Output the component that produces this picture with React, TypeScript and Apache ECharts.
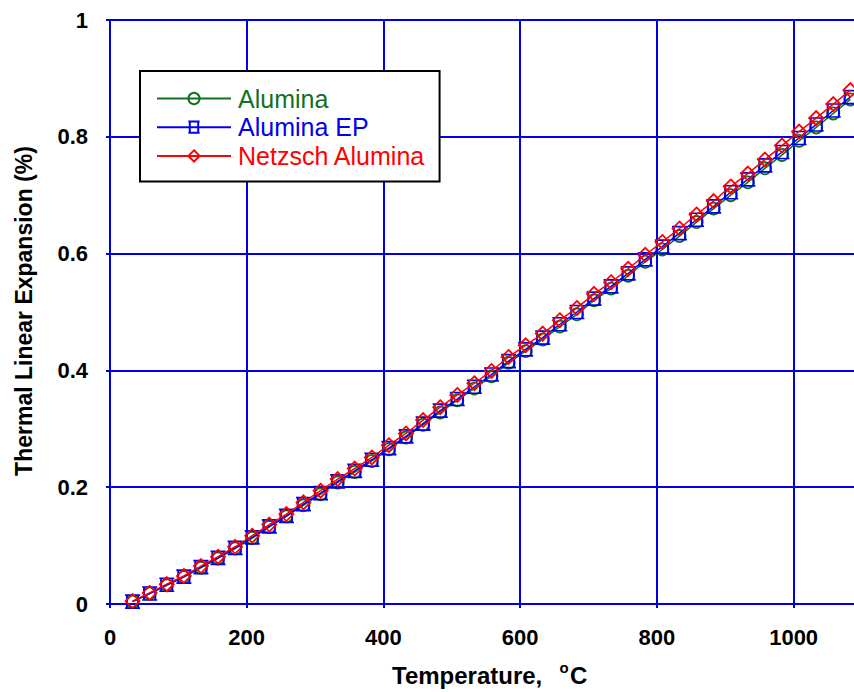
import React, { useEffect, useRef } from "react";
import * as echarts from "echarts";

const temps = [33, 58, 83, 108, 133, 158, 183, 208, 233, 258, 283, 308, 333, 358, 383, 408, 433, 458, 483, 508, 533, 558, 583, 608, 633, 658, 683, 708, 733, 758, 783, 808, 833, 858, 883, 908, 933, 958, 983, 1008, 1033, 1058, 1083];

const alumina = [0.004, 0.018, 0.032, 0.046, 0.062, 0.078, 0.095, 0.113, 0.132, 0.150, 0.169, 0.188, 0.208, 0.226, 0.245, 0.265, 0.285, 0.307, 0.328, 0.349, 0.369, 0.390, 0.413, 0.433, 0.453, 0.475, 0.496, 0.520, 0.540, 0.562, 0.586, 0.607, 0.630, 0.654, 0.677, 0.700, 0.722, 0.746, 0.769, 0.793, 0.816, 0.840, 0.864];

const aluminaEP = [0.004, 0.018, 0.033, 0.047, 0.063, 0.079, 0.096, 0.114, 0.133, 0.151, 0.171, 0.190, 0.210, 0.228, 0.247, 0.267, 0.287, 0.309, 0.331, 0.351, 0.372, 0.393, 0.416, 0.436, 0.456, 0.479, 0.500, 0.523, 0.544, 0.566, 0.590, 0.612, 0.635, 0.658, 0.681, 0.705, 0.727, 0.751, 0.774, 0.798, 0.821, 0.845, 0.868];

const netzsch = [0.005, 0.019, 0.034, 0.048, 0.065, 0.081, 0.098, 0.117, 0.136, 0.154, 0.174, 0.194, 0.214, 0.232, 0.251, 0.272, 0.292, 0.315, 0.337, 0.358, 0.378, 0.399, 0.423, 0.443, 0.463, 0.486, 0.507, 0.531, 0.551, 0.574, 0.598, 0.620, 0.643, 0.667, 0.690, 0.715, 0.737, 0.761, 0.785, 0.809, 0.832, 0.856, 0.880];

const seriesNames = ["Alumina", "Alumina EP", "Netzsch Alumina"];
const seriesColors = ["#12701f", "#0000ee", "#ff0000"];

const xTitle = "Temperature,";
const yTitle = "Thermal Linear Expansion (%)";

const FONT = "'Liberation Sans', Arial, sans-serif";

function pairs(xs: number[], ys: number[]) {
  return xs.map((x, i) => [x, ys[i]]);
}

export default function App() {
  const ref = useRef<HTMLDivElement>(null);
  useEffect(() => {
    if (!ref.current) return;
    const chart = echarts.init(ref.current, undefined, { renderer: "svg" });
    const gridBlue = "#0000e6";
    const mk = (idx: number, data: number[], symbol: string, size: any) => ({
      name: seriesNames[idx],
      type: "line",
      data: pairs(temps, data),
      symbol,
      symbolSize: size,
      lineStyle: { color: seriesColors[idx], width: 1.5 },
      itemStyle: { color: "transparent", borderColor: seriesColors[idx], borderWidth: 1.8 },
      z: 2 + idx,
    });
    chart.setOption({
      animation: false,
      backgroundColor: "#ffffff",
      grid: { left: 110, top: 20, right: 0, bottom: 88, containLabel: false },
      xAxis: {
        type: "value",
        min: 0,
        max: 1100,
        interval: 200,
        axisLine: { show: true, onZero: false, lineStyle: { color: gridBlue, width: 2 } },
        axisTick: { show: true, inside: false, length: 4, lineStyle: { color: gridBlue, width: 2 } },
        splitLine: { show: true, lineStyle: { color: gridBlue, width: 2 } },
        axisLabel: {
          margin: 22,
          color: "#000",
          fontFamily: FONT,
          fontWeight: "bold",
          fontSize: 22,
          showMaxLabel: false,
          formatter: (v: number) => (v % 200 === 0 ? String(v) : ""),
        },
      },
      yAxis: {
        type: "value",
        min: 0,
        max: 1,
        interval: 0.2,
        axisLine: { show: true, lineStyle: { color: gridBlue, width: 2 } },
        axisTick: { show: true, inside: false, length: 4, lineStyle: { color: gridBlue, width: 2 } },
        splitLine: { show: true, lineStyle: { color: gridBlue, width: 2 } },
        axisLabel: {
          margin: 22,
          color: "#000",
          fontFamily: FONT,
          fontWeight: "bold",
          fontSize: 22,
        },
      },
      legend: {
        orient: "vertical",
        left: 140,
        top: 71,
        padding: [15, 14, 13, 16],
        itemWidth: 74,
        itemHeight: 14,
        itemGap: 3.7,
        borderColor: "#000",
        borderWidth: 2,
        backgroundColor: "#fff",
        textStyle: { fontFamily: FONT, fontSize: 25, lineHeight: 24, padding: [0, 0, 0, 2] },
        data: seriesNames.map((n, i) => ({ name: n, textStyle: { color: seriesColors[i] } })),
      },
      graphic: [
        {
          type: "text",
          x: 392,
          y: 675,
          style: { text: xTitle, font: `bold 24px ${FONT}`, fill: "#000", align: "left", verticalAlign: "middle" },
        },
        {
          type: "text",
          x: 564,
          y: 667,
          style: { text: "o", font: `bold 15px ${FONT}`, fill: "#000", align: "center", verticalAlign: "middle" },
        },
        {
          type: "text",
          x: 570,
          y: 675,
          style: { text: "C", font: `bold 24px ${FONT}`, fill: "#000", align: "left", verticalAlign: "middle" },
        },
        {
          type: "text",
          x: 24,
          y: 311,
          rotation: Math.PI / 2,
          style: { text: yTitle, font: `bold 23px ${FONT}`, fill: "#000", align: "center", verticalAlign: "middle" },
        },
      ],
      series: [
        mk(0, alumina, "circle", 12),
        mk(1, aluminaEP, "path://M0,0 H16 M2,0 V14 M14,0 V14 M0,14 H16", [15, 13]),
        mk(2, netzsch, "diamond", 14),
      ],
    });
    return () => chart.dispose();
  }, []);
  return (
    <div style={{ position: "absolute", left: 0, top: 0, width: 854, height: 692, overflow: "hidden", background: "#fff" }}>
      <div ref={ref} style={{ width: 862, height: 692 }} />
    </div>
  );
}
